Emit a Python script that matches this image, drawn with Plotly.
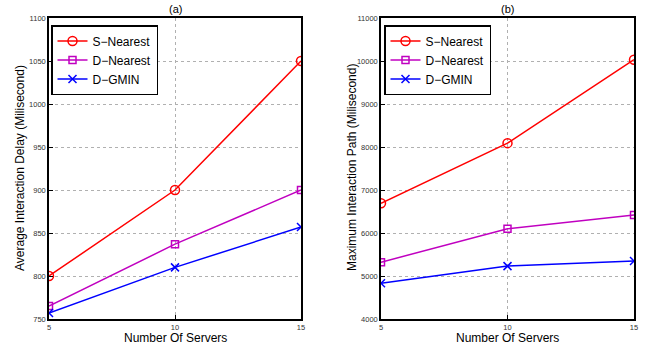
import plotly.graph_objects as go

servers = [5, 10, 15]
series_names = ["S\u2212Nearest", "D\u2212Nearest", "D\u2212GMIN"]
delay_s_nearest = [800, 900, 1050]
delay_d_nearest = [765, 837, 900]
delay_d_gmin = [757, 810, 857]
path_s_nearest = [6690, 8090, 10030]
path_d_nearest = [5320, 6100, 6420]
path_d_gmin = [4830, 5230, 5350]

colors = ["#ff0000", "#c000c0", "#0000ff"]
symbols = ["circle-open", "square-open", "x-thin-open"]
sizes = [9, 7, 8]

fig = go.Figure()
for i, (vals, name) in enumerate(zip([delay_s_nearest, delay_d_nearest, delay_d_gmin], series_names)):
    fig.add_trace(go.Scatter(x=servers, y=vals, name=name, mode="lines+markers",
                             line=dict(color=colors[i], width=1.5),
                             marker=dict(symbol=symbols[i], size=sizes[i], color=colors[i],
                                         line=dict(color=colors[i], width=1.5)),
                             xaxis="x", yaxis="y", legend="legend"))
for i, (vals, name) in enumerate(zip([path_s_nearest, path_d_nearest, path_d_gmin], series_names)):
    fig.add_trace(go.Scatter(x=servers, y=vals, name=name, mode="lines+markers",
                             line=dict(color=colors[i], width=1.5),
                             marker=dict(symbol=symbols[i], size=sizes[i], color=colors[i],
                                         line=dict(color=colors[i], width=1.5)),
                             xaxis="x2", yaxis="y2", legend="legend2"))

font = "Liberation Sans, Arial, sans-serif"
axis_common = dict(showline=True, linecolor="black", linewidth=1.5, mirror=True,
                   ticks="inside", ticklen=4, tickcolor="black", automargin=False,
                   showgrid=True, gridcolor="#b0b0b0", griddash="dot", gridwidth=1,
                   zeroline=False, tickfont=dict(size=7.5, color="#333", family=font))

W, H = 655, 349
def px_x(p):
    return p / W
def px_y(p):
    return 1 - p / H

yd = [px_y(319), px_y(18)]
fig.update_layout(
    width=W, height=H, autosize=False,
    margin=dict(l=0, r=0, t=0, b=0, pad=0, autoexpand=False),
    paper_bgcolor="white", plot_bgcolor="white",
    font=dict(family=font, color="black"),
    xaxis=dict(domain=[px_x(49), px_x(301)], range=[5, 15], tickvals=servers, anchor="y", **axis_common),
    yaxis=dict(domain=yd, range=[750, 1100], dtick=50, anchor="x", tickformat="d", **axis_common),
    xaxis2=dict(domain=[px_x(381), px_x(634)], range=[5, 15], tickvals=servers, anchor="y2", **axis_common),
    yaxis2=dict(domain=yd, range=[4000, 11000], dtick=1000, anchor="x2", tickformat="d", **axis_common),
    legend=dict(x=px_x(51), y=px_y(25), xanchor="left", yanchor="top", bgcolor="white",
                bordercolor="black", borderwidth=1.5, font=dict(size=12), tracegroupgap=0,
                itemwidth=30),
    legend2=dict(x=px_x(384), y=px_y(25), xanchor="left", yanchor="top", bgcolor="white",
                 bordercolor="black", borderwidth=1.5, font=dict(size=12), tracegroupgap=0,
                 itemwidth=30),
    annotations=[
        dict(text="(a)", x=px_x(175), y=px_y(9), xref="paper", yref="paper", showarrow=False,
             xanchor="center", yanchor="middle", font=dict(size=11)),
        dict(text="(b)", x=px_x(507), y=px_y(9), xref="paper", yref="paper", showarrow=False,
             xanchor="center", yanchor="middle", font=dict(size=11)),
        dict(text="Number Of Servers", x=px_x(175), y=px_y(338), xref="paper", yref="paper",
             showarrow=False, xanchor="center", yanchor="middle", font=dict(size=12)),
        dict(text="Number Of Servers", x=px_x(507), y=px_y(338), xref="paper", yref="paper",
             showarrow=False, xanchor="center", yanchor="middle", font=dict(size=12)),
        dict(text="Average Interaction Delay (Milisecond)", x=px_x(20), y=px_y(168), xref="paper",
             yref="paper", showarrow=False, xanchor="center", yanchor="middle", textangle=-90,
             font=dict(size=12)),
        dict(text="Maximum Interaction Path (Milisecond)", x=px_x(352), y=px_y(168), xref="paper",
             yref="paper", showarrow=False, xanchor="center", yanchor="middle", textangle=-90,
             font=dict(size=12)),
    ],
)

fig.write_html("out.html", config={"displayModeBar": False},
               post_script="document.documentElement.style.overflow='hidden';"
                           "document.body.style.margin='0';document.body.style.overflow='hidden';")
